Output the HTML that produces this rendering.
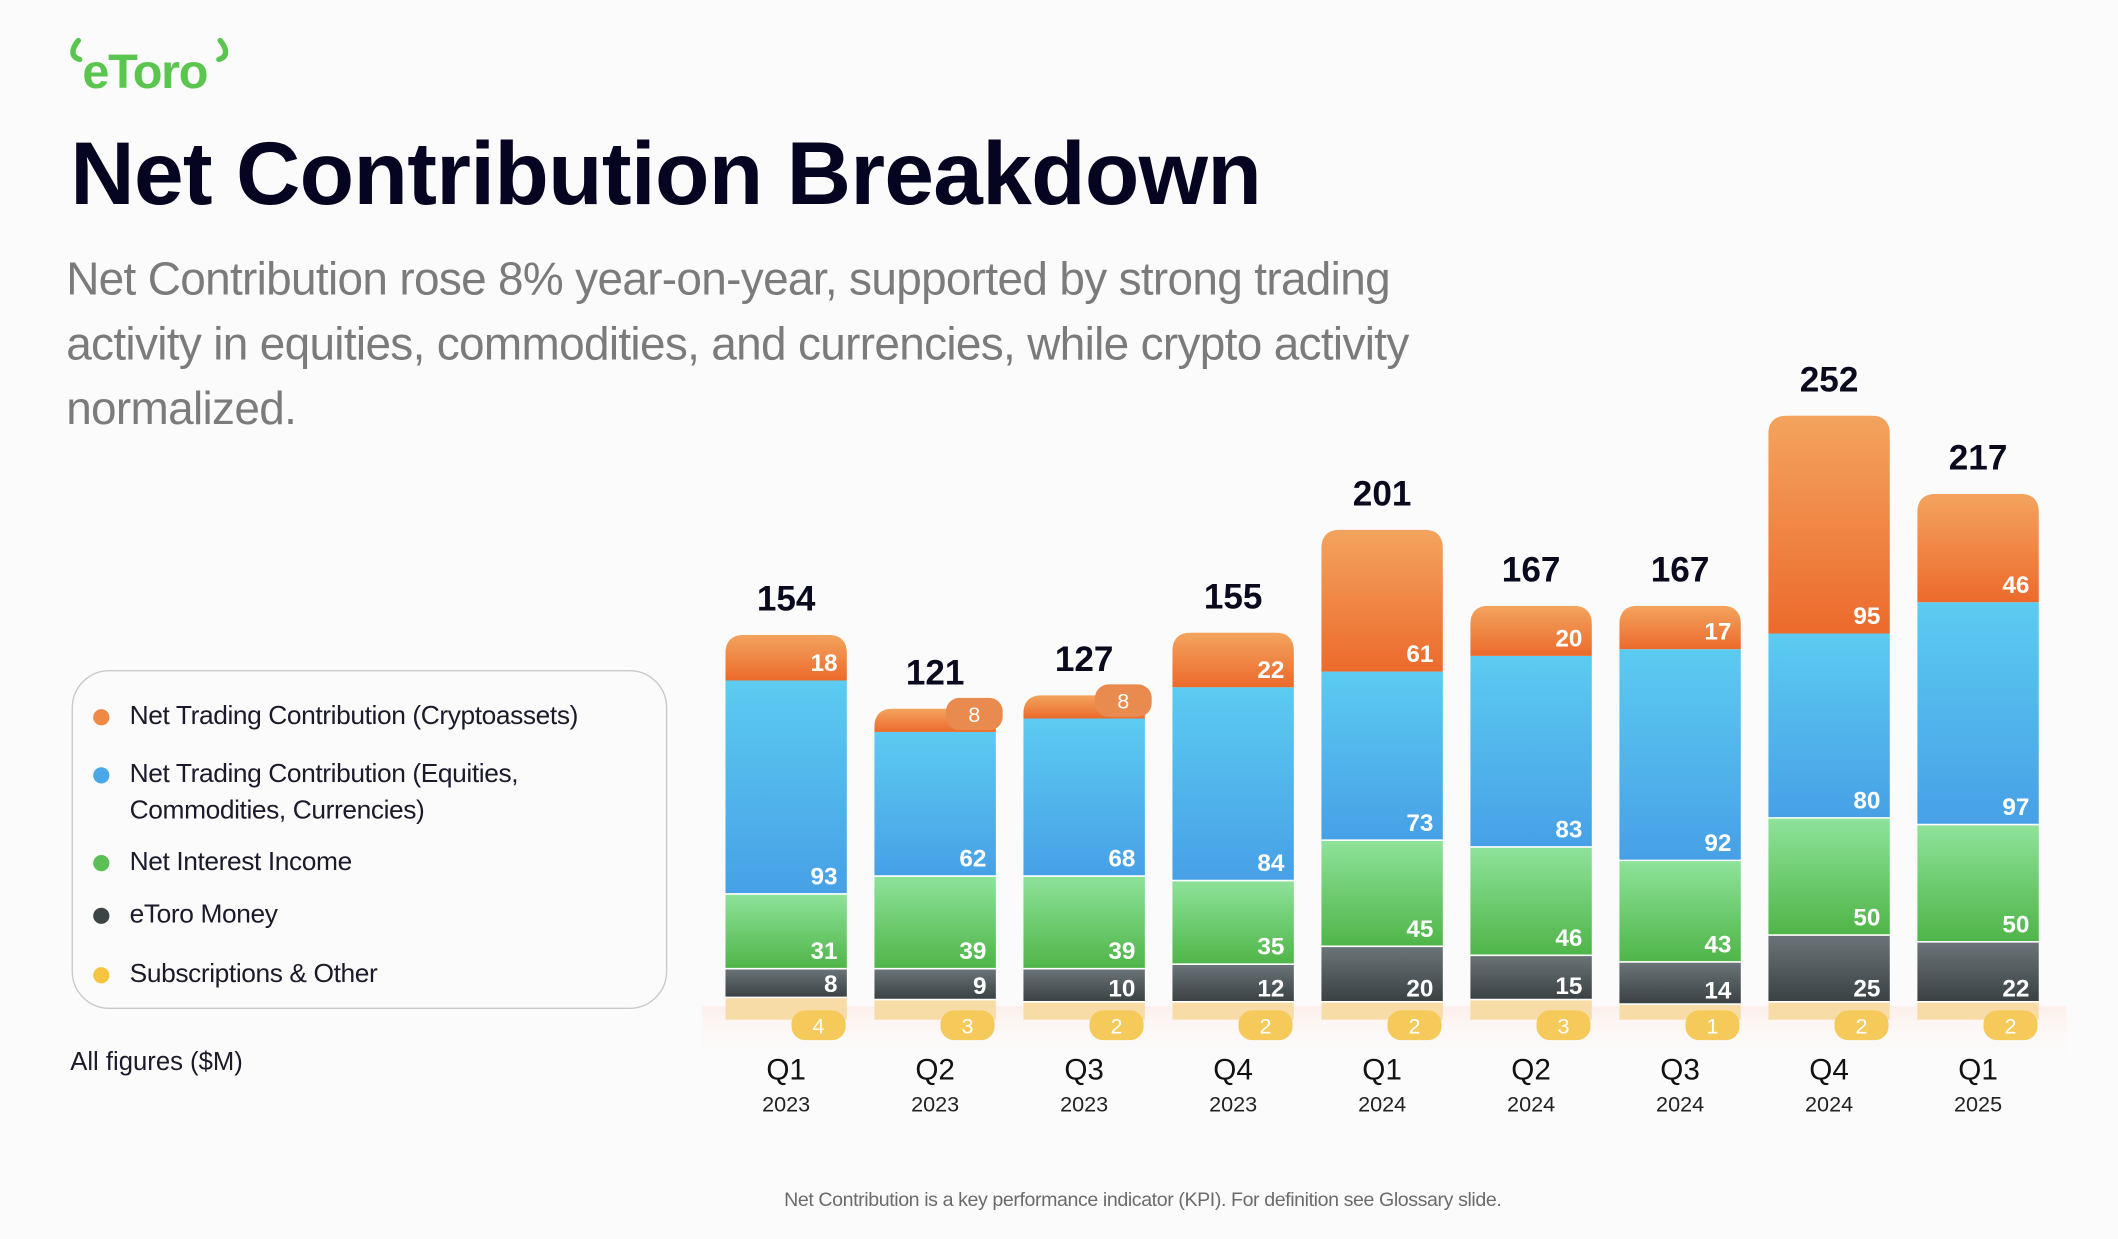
<!DOCTYPE html>
<html><head><meta charset="utf-8"><style>
html,body{margin:0;padding:0;background:#fbfbfb;overflow:hidden;width:2118px;height:1238px}
#stage{position:absolute;left:0;top:0;width:1568px;height:917px;transform:scale(1.35077);transform-origin:0 0;font-family:"Liberation Sans",sans-serif;background:#fbfbfb}
.abs{position:absolute}
#title{left:52px;top:90px;font-size:66px;font-weight:bold;color:#050521;letter-spacing:-0.5px;white-space:nowrap}
#sub{left:49px;top:183px;font-size:34px;line-height:48px;color:#7b7b7b;width:1060px;letter-spacing:-0.5px}
#legend{left:53px;top:496px;width:441px;height:251px;border:1.5px solid #c9c9c9;border-radius:28px;box-sizing:border-box}
.li{position:absolute;left:42px;font-size:19.5px;color:#1a1a2a;line-height:27px;letter-spacing:-0.3px}
.dot{position:absolute;left:-27px;top:8px;width:12px;height:12px;border-radius:50%}
</style></head><body>
<div id="stage">
<div class="abs" style="left:50px;top:26px">
<svg width="125" height="45" viewBox="0 0 125 45">
<path d="M8 4 C3 10 2 16 9 18" stroke="#5ac54f" stroke-width="4" fill="none" stroke-linecap="round"/>
<path d="M113 4 C118 10 119 16 112 18" stroke="#5ac54f" stroke-width="4" fill="none" stroke-linecap="round"/>
<text x="11" y="39" font-family="Liberation Sans, sans-serif" font-size="36" font-weight="bold" fill="#5ac54f" letter-spacing="-1">eToro</text>
</svg></div>
<div id="title" class="abs">Net Contribution Breakdown</div>
<div id="sub" class="abs">Net Contribution rose 8% year-on-year, supported by strong trading activity in equities, commodities, and currencies, while crypto activity normalized.</div>
<div id="legend" class="abs">
<div class="li" style="top:20px"><span class="dot" style="background:#ee8a45"></span>Net Trading Contribution (Cryptoassets)</div>
<div class="li" style="top:63px"><span class="dot" style="background:#4aa8e8"></span>Net Trading Contribution (Equities,<br>Commodities, Currencies)</div>
<div class="li" style="top:128px"><span class="dot" style="background:#5bbf55"></span>Net Interest Income</div>
<div class="li" style="top:167px"><span class="dot" style="background:#3b4446"></span>eToro Money</div>
<div class="li" style="top:211px"><span class="dot" style="background:#f5c542"></span>Subscriptions &amp; Other</div>
</div>
<div class="abs" style="left:52px;top:776px;font-size:19px;color:#1a1a2a">All figures ($M)</div>
<div class="abs" style="left:0;width:1692px;text-align:center;top:881px;font-size:14.5px;color:#6b6b6b;letter-spacing:-0.3px">Net Contribution is a key performance indicator (KPI). For definition see Glossary slide.</div>
<svg id="chart" class="abs" style="left:0;top:0" width="1568" height="917">
<defs>
<linearGradient id="gO" x1="0" y1="0" x2="0" y2="1"><stop offset="0" stop-color="#f3a45e"/><stop offset="1" stop-color="#ec6a2c"/></linearGradient>
<linearGradient id="gB" x1="0" y1="0" x2="0" y2="1"><stop offset="0" stop-color="#5ccbf1"/><stop offset="1" stop-color="#47a0e6"/></linearGradient>
<linearGradient id="gG" x1="0" y1="0" x2="0" y2="1"><stop offset="0" stop-color="#8ee39a"/><stop offset="1" stop-color="#4fb548"/></linearGradient>
<linearGradient id="gK" x1="0" y1="0" x2="0" y2="1"><stop offset="0" stop-color="#6b7478"/><stop offset="1" stop-color="#394143"/></linearGradient>
<linearGradient id="gS" x1="0" y1="0" x2="0" y2="1"><stop offset="0" stop-color="#ffe8e0" stop-opacity="0.6"/><stop offset="1" stop-color="#fbfbfb" stop-opacity="0"/></linearGradient>
</defs>
</svg>
</div>
<script>
const quarters=["Q1","Q2","Q3","Q4","Q1","Q2","Q3","Q4","Q1"];
const years=["2023","2023","2023","2023","2024","2024","2024","2024","2025"];
const crypto=[18,8,8,22,61,20,17,95,46];
const equities=[93,62,68,84,73,83,92,80,97];
const interest=[31,39,39,35,45,46,43,50,50];
const money=[8,9,10,12,20,15,14,25,22];
const subs=[4,3,2,2,2,3,1,2,2];
const totals=[154,121,127,155,201,167,167,252,217];

const NS="http://www.w3.org/2000/svg";
const svg=document.getElementById('chart');
const baseY=755, k=1.656, barW=90;
function xc(i){return 582+i*110.3;}
function hv(v,off){return off+v*k;}
function mk(tag,attrs,parent){const e=document.createElementNS(NS,tag);for(const a in attrs)e.setAttribute(a,attrs[a]);(parent||svg).appendChild(e);return e;}
mk('rect',{x:520,y:745,width:1010,height:40,fill:'url(#gS)'});
const series=[
 {d:subs,off:10,fill:'#f8dca8',name:'subscriptions'},
 {d:money,off:8,fill:'url(#gK)',name:'money'},
 {d:interest,off:4,fill:'url(#gG)',name:'interest'},
 {d:equities,off:4,fill:'url(#gB)',name:'equities'},
 {d:crypto,off:4,fill:'url(#gO)',name:'crypto'}];
for(let i=0;i<quarters.length;i++){
  const g=mk('g',{});
  
  
  const x=xc(i)-barW/2;let y=baseY;const segs=[];
  series.forEach((s,si)=>{
    const h=hv(s.d[i],s.off);y-=h;segs.push({y,h,s,si});
  });
  const top=y;
  const cid='c'+i;const cp=mk('clipPath',{id:cid},g);
  mk('path',{d:`M${x},${baseY} V${top+14} Q${x},${top} ${x+14},${top} H${x+barW-14} Q${x+barW},${top} ${x+barW},${top+14} V${baseY} Z`},cp);
  const cg=mk('g',{'clip-path':`url(#${cid})`},g);
  segs.forEach(sg=>{
    const r=mk('rect',{x:x,y:sg.y,width:barW,height:sg.h,fill:sg.s.fill},cg);
    
    
    if(sg.si>0&&sg.si<4)mk('line',{x1:x,x2:x+barW,y1:sg.y+sg.h,y2:sg.y+sg.h,stroke:'#fff','stroke-width':1.2},cg);
  });
  segs.forEach(sg=>{
    const v=sg.s.d[i];
    if(sg.si===0){
      const bx=xc(i)+24,by=baseY+4;
      mk('rect',{x:bx-20,y:by-11,width:40,height:22,rx:10,fill:'#f5c95a'},g);
      const t=mk('text',{x:bx,y:by+6,'text-anchor':'middle','font-size':16,fill:'#fff'},g);t.textContent=v;
      
    }else if(sg.si===4&&sg.h<30){
      const bx=x+barW-16,by=sg.y+4;
      mk('rect',{x:bx-21,y:by-12,width:42,height:24,rx:10,fill:'#e98a4e'},g);
      const t=mk('text',{x:bx,y:by+6,'text-anchor':'middle','font-size':16,fill:'#fff'},g);t.textContent=v;
      
    }else{
      const t=mk('text',{x:x+barW-7,y:sg.y+sg.h-(sg.si===1?4:7),'text-anchor':'end','font-size':18,'font-weight':'bold',fill:'#fff'},g);
      t.textContent=v;
      
    }
  });
  const tt=mk('text',{x:xc(i),y:top-18,'text-anchor':'middle','font-size':26,'font-weight':'bold',fill:'#0a0a1e'});
  tt.textContent=totals[i];
  
  const q=mk('text',{x:xc(i),y:799,'text-anchor':'middle','font-size':22,fill:'#111'});
  q.textContent=quarters[i];
  
  const yr=mk('text',{x:xc(i),y:823,'text-anchor':'middle','font-size':16,fill:'#222'});
  yr.textContent=years[i];
  
}
</script>
</body></html>
